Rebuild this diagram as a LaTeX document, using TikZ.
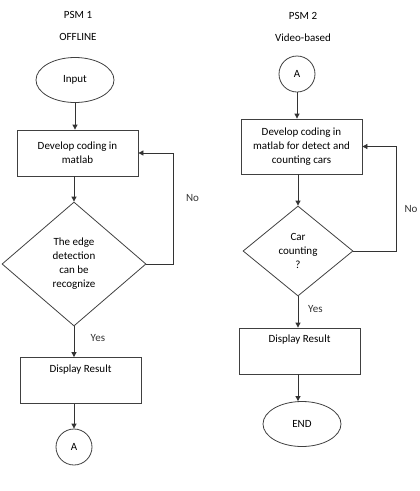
\documentclass[tikz,border=0pt]{standalone}
\usepackage{fontspec}
\setmainfont{Carlito}
\usepackage{tikz}
\usetikzlibrary{shapes.geometric, arrows.meta, positioning}
\tikzset{
  terminal/.style   = {ellipse, draw=black!75, minimum width=78pt, minimum height=45pt,
                       inner sep=0pt},
  connector/.style  = {circle, draw=black!75, minimum size=36pt, inner sep=0pt},
  process/.style    = {rectangle, draw=black!75, minimum width=121pt, minimum height=46pt,
                       align=center},
  result/.style     = {rectangle, draw=black!75, minimum width=121pt,
                       text height=12pt, text depth=29pt, inner ysep=2.5pt},
  decision/.style   = {diamond, draw=black!75, inner sep=0pt, align=center},
  arrow/.style      = {-{Triangle[length=5pt, width=5pt]}, black!80},
  heading/.style    = {text=black},
}

\begin{document}
\begin{tikzpicture}[x=1pt, y=-1pt, line width=0.8pt,
    every node/.style={font=\fontsize{11}{14}\selectfont}]

  \useasboundingbox (0,0) rectangle (420,491);

  % PSM 1 (left column)
  \node[heading] (title1) at (78,15) {PSM 1};
  \node[heading] (mode1)  at (78,37) {OFFLINE};

  \node[terminal] (input) at (75,80) {Input};
  \node[process]  (code1) at (77.5,153) {Develop coding in\\matlab};
  \node[decision, minimum width=144pt, minimum height=124pt] (check1) at (74,264)
       {The edge\\detection\\can be\\recognize};
  \node[result]    (show1) at (80.5,380.5) {Display Result};
  \node[connector] (linkA) at (74,447) {A};

  \draw[arrow] (input.south) -- (input.south |- code1.north);
  \draw[arrow] (code1.south -| check1.north) -- (check1.north);
  \draw[arrow] (check1.south) -- (check1.south |- show1.north)
       node[midway, right=13pt, yshift=4pt] {Yes};
  \draw[arrow] (show1.south -| linkA.north) -- (linkA.north);
  \draw[arrow] (check1.east) -- ++(27,0) |- (code1.east)
       node[pos=0.25, right=9pt, yshift=10pt] {No};

  % PSM 2 (right column)
  \node[heading] (title2) at (303,16) {PSM 2};
  \node[heading] (mode2)  at (303,38) {Video-based};

  \node[connector] (startA) at (297,74) {A};
  \node[process, minimum height=55pt] (code2) at (301.5,146.5)
       {Develop coding in\\matlab for detect and\\counting cars};
  \node[decision, minimum width=110pt, minimum height=90pt] (check2) at (298,251)
       {Car\\counting\\?};
  \node[result]   (show2) at (299.5,351) {Display Result};
  \node[terminal] (stop)  at (302,424) {END};

  \draw[arrow] (startA.south) -- (startA.south |- code2.north);
  \draw[arrow] (code2.south -| check2.north) -- (check2.north);
  \draw[arrow] (check2.south) -- (check2.south |- show2.north)
       node[midway, right=6.5pt, yshift=3pt] {Yes};
  \draw[arrow] (check2.south |- show2.south) -- (check2.south |- stop.north);
  \draw[arrow] (check2.east) -- ++(43,0) |- (code2.east)
       node[pos=0.25, right=4.5pt, yshift=-10pt] {No};

\end{tikzpicture}
\end{document}
